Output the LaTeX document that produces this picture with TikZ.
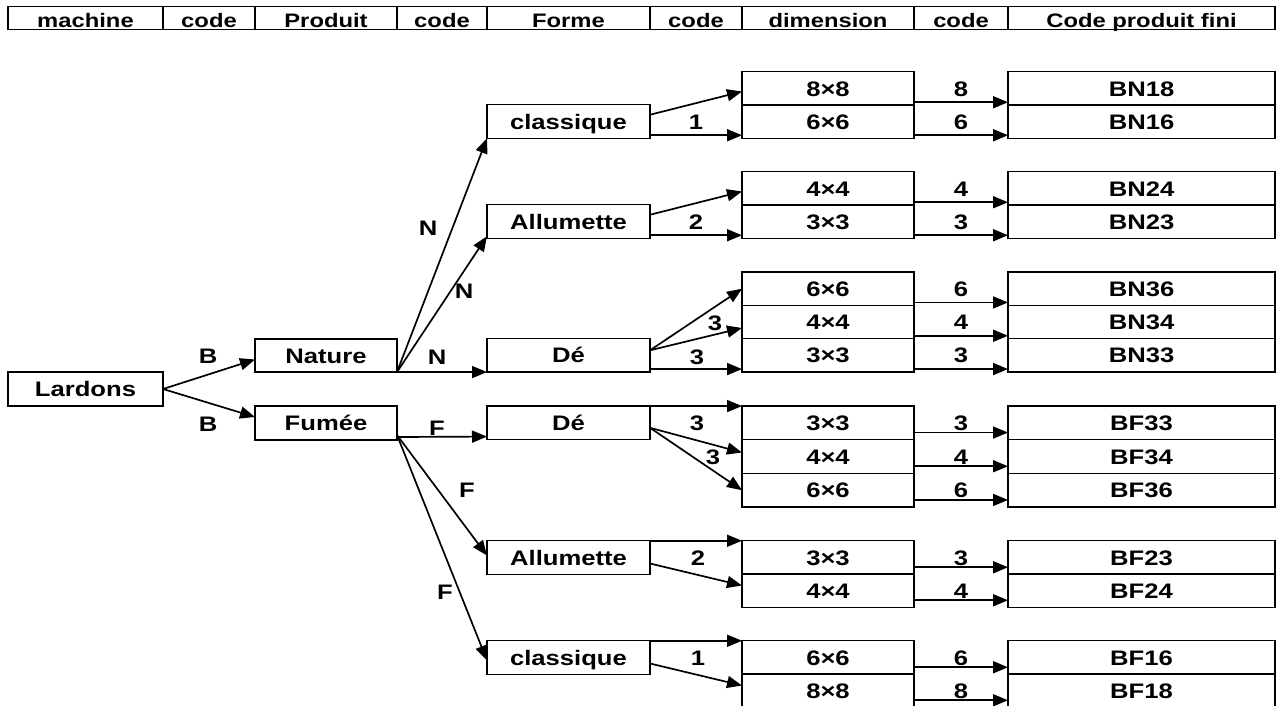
\documentclass[tikz,border=0pt]{standalone}
\usepackage{fontspec}
\setmainfont{Liberation Sans}[FakeStretch=1.22]
\usetikzlibrary{arrows.meta}
\begin{document}
\begin{tikzpicture}[x=1pt,y=-1pt,
  every node/.style={font=\fontsize{21}{24}\selectfont\bfseries,
    inner sep=0pt, outer sep=0pt, text height=15pt, text depth=0pt},
  hcell/.style={draw, line width=1.2pt, minimum height=23pt},
  htext/.style={anchor=base, font=\fontsize{19.5}{22}\selectfont\bfseries},
  box/.style={draw, line width=1.2pt},
  fbox/.style={box, minimum width=163pt, minimum height=33.5pt},
  dbox/.style={box, minimum width=172pt, minimum height=33.5pt},
  pbox/.style={box, minimum width=267pt, minimum height=33.5pt},
  conn/.style={-{Triangle[length=15pt,width=12pt]}, line width=1.7pt}]
\useasboundingbox (0,0) rectangle (1279,705);
\clip (0,0) rectangle (1279,705);

% header row: cells, then their titles sitting low in each cell
\node[hcell, minimum width=155pt] (h1) at (85.5,18) {};
\node[hcell, minimum width=92pt]  (h2) at (209,18) {};
\node[hcell, minimum width=142pt] (h3) at (326,18) {};
\node[hcell, minimum width=90pt]  (h4) at (442,18) {};
\node[hcell, minimum width=163pt] (h5) at (568.5,18) {};
\node[hcell, minimum width=92pt]  (h6) at (696,18) {};
\node[hcell, minimum width=172pt] (h7) at (828,18) {};
\node[hcell, minimum width=94pt]  (h8) at (961,18) {};
\node[hcell, minimum width=267pt] (h9) at (1141.5,18) {};
\node[htext] (t1) at (85.5,27) {machine};
\node[htext] (t2) at (209,27) {code};
\node[htext] (t3) at (326,27) {Produit};
\node[htext] (t4) at (442,27) {code};
\node[htext] (t5) at (568.5,27) {Forme};
\node[htext] (t6) at (696,27) {code};
\node[htext] (t7) at (828,27) {dimension};
\node[htext] (t8) at (961,27) {code};
\node[htext] (t9) at (1141.5,27) {Code produit fini};

% machine and product
\node[box, minimum width=155pt, minimum height=34pt] (lard) at (85.5,389) {Lardons};
\node[box, minimum width=142pt, minimum height=33pt] (nat) at (326,355.5) {Nature};
\node[box, minimum width=142pt, minimum height=34pt] (fum) at (326,423) {Fumée};

% shapes
\node[fbox] (classN) at (568.5,121.5) {classique};
\node[fbox] (alluN)  at (568.5,221.5) {Allumette};
\node[fbox] (deN)    at (568.5,355.3) {Dé};
\node[fbox] (deF)    at (568.5,422.8) {Dé};
\node[fbox] (alluF)  at (568.5,557.5) {Allumette};
\node[fbox] (classF) at (568.5,657.5) {classique};

% dimensions
\node[dbox] (dN18) at (828,88.5)  {8×8};
\node[dbox] (dN16) at (828,121.5) {6×6};
\node[dbox] (dN24) at (828,188.5) {4×4};
\node[dbox] (dN23) at (828,221.5) {3×3};
\node[dbox] (dN36) at (828,288.7) {6×6};
\node[dbox] (dN34) at (828,322)   {4×4};
\node[dbox] (dN33) at (828,355.3) {3×3};
\node[dbox] (dF33) at (828,422.8) {3×3};
\node[dbox] (dF34) at (828,456.5) {4×4};
\node[dbox] (dF36) at (828,490.2) {6×6};
\node[dbox] (dF23) at (828,557.5) {3×3};
\node[dbox] (dF24) at (828,590.5) {4×4};
\node[dbox] (dF16) at (828,657.5) {6×6};
\node[dbox] (dF18) at (828,690.5) {8×8};

% finished product codes
\node[pbox] (pN18) at (1141.5,88.5)  {BN18};
\node[pbox] (pN16) at (1141.5,121.5) {BN16};
\node[pbox] (pN24) at (1141.5,188.5) {BN24};
\node[pbox] (pN23) at (1141.5,221.5) {BN23};
\node[pbox] (pN36) at (1141.5,288.7) {BN36};
\node[pbox] (pN34) at (1141.5,322)   {BN34};
\node[pbox] (pN33) at (1141.5,355.3) {BN33};
\node[pbox] (pF33) at (1141.5,422.8) {BF33};
\node[pbox] (pF34) at (1141.5,456.5) {BF34};
\node[pbox] (pF36) at (1141.5,490.2) {BF36};
\node[pbox] (pF23) at (1141.5,557.5) {BF23};
\node[pbox] (pF24) at (1141.5,590.5) {BF24};
\node[pbox] (pF16) at (1141.5,657.5) {BF16};
\node[pbox] (pF18) at (1141.5,690.5) {BF18};

% machine -> product
\draw[conn] (lard.east) -- ([yshift=-4pt]nat.west);
\draw[conn] (lard.east) -- ([yshift=6pt]fum.west);
\node (bN) at (208,356) {B};
\node (bF) at (208,424) {B};

% product -> shape
\draw[conn] (nat.south east) -- (classN.south west);
\draw[conn] (nat.south east) -- ([yshift=2pt]alluN.south west);
\draw[conn] (nat.south east) -- (deN.south west);
\node (n1) at (428,228) {N};
\node (n2) at (464,291) {N};
\node (n3) at (437,357) {N};
\draw[conn] ([yshift=3pt]fum.south east) -- ([yshift=3pt]deF.south west);
\draw[conn] ([yshift=5pt]fum.south east) -- ([yshift=2pt]alluF.west);
\draw[conn] ([yshift=5pt]fum.south east) -- ([yshift=-3pt]classF.west);
\node (f1) at (437,428) {F};
\node (f2) at (467,490) {F};
\node (f3) at (445,592) {F};

% shape -> dimension
\draw[conn] ([yshift=-10pt]classN.north east) -- ([yshift=-3pt]dN18.west);
\draw[conn] ([yshift=3pt]classN.south east) -- ([yshift=3pt]dN16.south west);
\node (c1) at (696,121.5) {1};
\draw[conn] ([yshift=-10pt]alluN.north east) -- ([yshift=-3pt]dN24.west);
\draw[conn] ([yshift=3pt]alluN.south east) -- ([yshift=3pt]dN23.south west);
\node (c2) at (696,221.5) {2};
\draw[conn] ([yshift=5pt]deN.east) -- (dN36.west);
\draw[conn] ([yshift=5pt]deN.east) -- ([yshift=-6pt]dN34.west);
\draw[conn] ([yshift=3pt]deN.south east) -- ([yshift=3pt]dN33.south west);
\node (c3a) at (715,323) {3};
\node (c3b) at (697,357) {3};
\draw[conn] (deF.north east) -- (dF33.north west);
\draw[conn] ([yshift=-5pt]deF.east) -- ([yshift=4pt]dF34.west);
\draw[conn] ([yshift=-5pt]deF.east) -- (dF36.west);
\node (c3c) at (697,423) {3};
\node (c3d) at (713,457) {3};
\draw[conn] (alluF.north east) -- (dF23.north west);
\draw[conn] ([yshift=-6pt]alluF.east) -- ([yshift=5pt]dF24.west);
\node (c2b) at (698,558) {2};
\draw[conn] (classF.north east) -- (dF16.north west);
\draw[conn] ([yshift=-6pt]classF.east) -- ([yshift=5pt]dF18.west);
\node (c1b) at (698,658) {1};

% dimension -> finished product
\foreach \k/\c/\y in {N18/8/88.5, N16/6/121.5, N24/4/188.5, N23/3/221.5,
                      N36/6/288.7, N34/4/322, N33/3/355.3}{
  \draw[conn] ([yshift=3pt]d\k.south east) -- ([yshift=3pt]p\k.south west);
  \node (k\k) at (961,\y) {\c};
}
\foreach \k/\c/\y in {F33/3/422.8, F34/4/456.5, F36/6/490.2, F23/3/557.5,
                      F24/4/590.5, F16/6/657.5, F18/8/690.5}{
  \draw[conn] ([yshift=7pt]d\k.south east) -- ([yshift=7pt]p\k.south west);
  \node (k\k) at (961,\y) {\c};
}
\end{tikzpicture}
\end{document}
